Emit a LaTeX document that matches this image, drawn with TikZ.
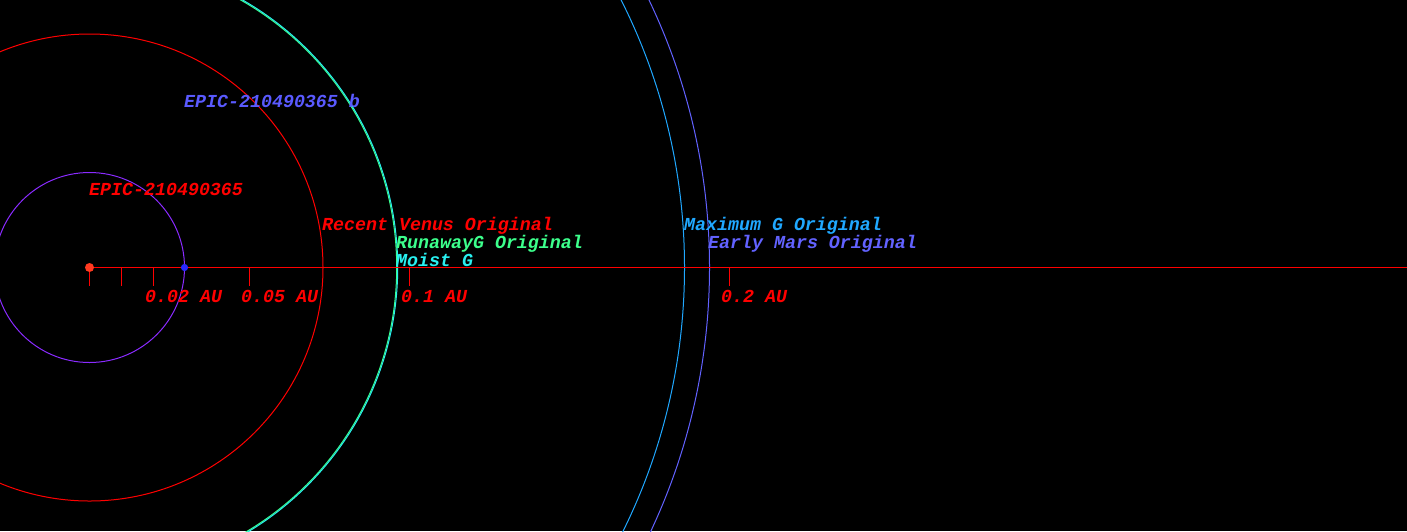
\documentclass[tikz,border=0pt]{standalone}
\usepackage{fontspec}
\setmonofont{Liberation Mono}
\usetikzlibrary{positioning}
\definecolor{starred}{HTML}{FF3A20}
\definecolor{planetblue}{HTML}{2828FF}
\definecolor{orbitpurple}{HTML}{8A2BFF}
\definecolor{runawaygreen}{HTML}{3CFF8C}
\definecolor{moistcyan}{HTML}{28F0F0}
\definecolor{maxgblue}{HTML}{20A8FF}
\definecolor{marsblue}{HTML}{6262FF}
\definecolor{labelblue}{HTML}{5A5AFF}
\tikzset{
  lbl/.style={anchor=base west, inner sep=0pt, font=\fontsize{18.3}{18.3}\selectfont\ttfamily\bfseries\itshape},
  orbit/.style={line width=1pt}
}

\begin{document}
\begin{tikzpicture}[x=1pt, y=-1pt]
                    \fill[black] (0,0) rectangle (1407,531);
                    \useasboundingbox (0,0) rectangle (1407,531);
                    \clip (0,0) rectangle (1407,531);
                    \coordinate (star) at (89.5,267.5);
                    \coordinate (axisend) at (1407,267.5);
                    \draw[orbit, orbitpurple] (star) circle[radius=95pt];
                    \draw[orbit, red] (star) circle[radius=233.5pt];
                    \draw[orbit, runawaygreen] (star) circle[radius=307.2pt];
                    \draw[orbit, moistcyan] (star) circle[radius=308.2pt];
                    \draw[orbit, maxgblue] (star) circle[radius=595pt];
                    \draw[orbit, marsblue] (star) circle[radius=620pt];
                    \draw[red, line width=1pt] (star) -- (axisend);
                    \foreach \au/\px in {0/89.5, 0.01/121.5, 0.02/153.5, 0.05/249.5, 0.1/409.5, 0.2/729.5}
                        \draw[red, line width=1pt] (\px,267.5) -- (\px,285.5);
                    \node[lbl, red] (au2) at (145,302.5) {0.02 AU};
                    \node[lbl, red] (au5) at (241,302.5) {0.05 AU};
                    \node[lbl, red] (au10) at (401,302.5) {0.1 AU};
                    \node[lbl, red] (au20) at (721,302.5) {0.2 AU};
                    \fill[starred] (star) circle[radius=4.5pt];
                    \fill[planetblue] (184.5,267.5) circle[radius=3.6pt];
                    \node[lbl, red] (starname) at (89,195) {EPIC-210490365};
                    \node[lbl, labelblue] (planetname) at (184,107.5) {EPIC-210490365 b};
                    \node[lbl, red] (venus) at (322,230.5) {Recent Venus Original};
                    \node[lbl, runawaygreen] (runaway) at (396,248.5) {RunawayG Original};
                    \node[lbl, moistcyan] (moist) at (396,266) {Moist G};
                    \node[lbl, maxgblue] (maxg) at (684,230.5) {Maximum G Original};
                    \node[lbl, marsblue] (mars) at (708,248.5) {Early Mars Original};
                \end{tikzpicture}
\end{document}
